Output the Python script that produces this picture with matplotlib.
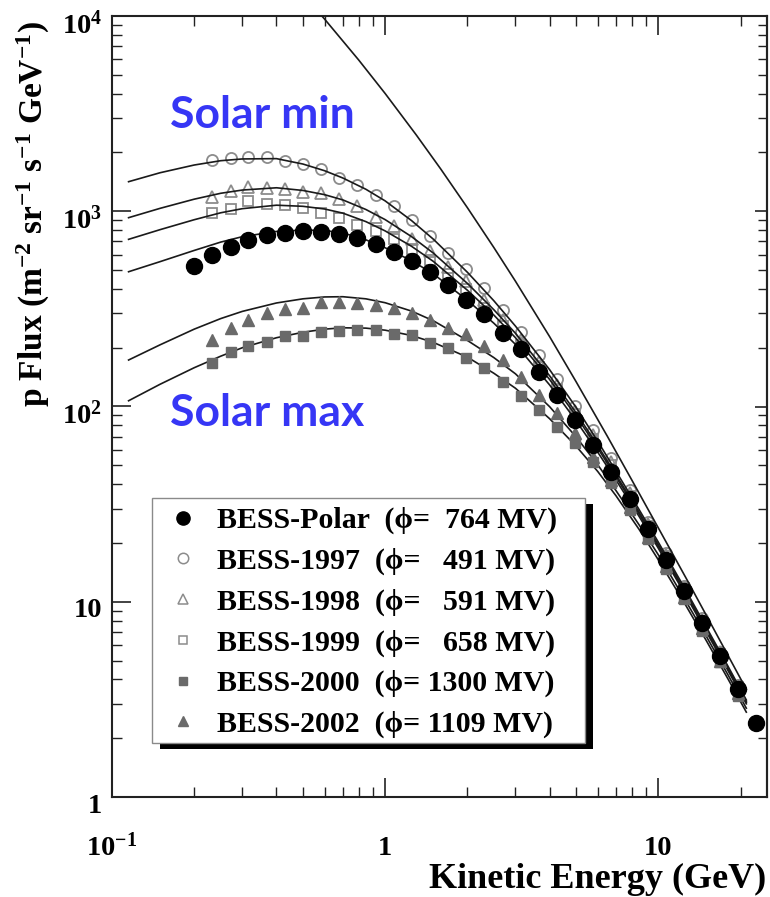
import matplotlib
matplotlib.use("Agg")
import matplotlib.pyplot as plt
import matplotlib.transforms as mtransforms
from matplotlib.lines import Line2D
from matplotlib.patches import Rectangle
from matplotlib.ticker import FixedLocator, FixedFormatter, LogLocator, NullFormatter

plt.rcParams['font.family'] = ['Liberation Serif', 'DejaVu Serif']
plt.rcParams['font.weight'] = 'bold'
plt.rcParams['mathtext.fontset'] = 'custom'
plt.rcParams['mathtext.rm'] = 'Liberation Serif:bold'
plt.rcParams['mathtext.bf'] = 'Liberation Serif:bold'
plt.rcParams['mathtext.it'] = 'Liberation Serif:bold:italic'

# --- measured points (GeV, m^-2 sr^-1 s^-1 GeV^-1) ---
energy_bins = [0.200, 0.233, 0.272, 0.316, 0.369, 0.430, 0.501, 0.583, 0.680, 0.792,
               0.923, 1.075, 1.253, 1.459, 1.701, 1.982, 2.309, 2.690, 3.135, 3.653,
               4.256, 4.959, 5.778, 6.733, 7.845, 9.141, 10.65, 12.41, 14.46, 16.85,
               19.63, 22.87]

flux_polar = [523, 600, 658, 710, 752, 778, 788, 785, 762, 730, 678, 620, 556, 488, 420,
              352, 299, 238, 197, 150, 114, 85.5, 63.5, 46.4, 33.5, 23.5, 16.45, 11.35,
              7.78, 5.30, 3.58, 2.39]

# the balloon flights 1997-2002 cover energy_bins[1:31]
flux_1997 = [1822, 1880, 1896, 1907, 1818, 1736, 1650, 1484, 1368, 1206, 1066, 898, 744,
             611, 507, 405, 312, 242, 184, 139, 100.6, 75.8, 54.3, 37.4, 25.6, 17.8, 12.1,
             8.25, 5.55, 3.76]
flux_1998 = [1188, 1274, 1335, 1320, 1295, 1250, 1236, 1151, 1064, 935, 840, 725, 625, 520,
             440, 350, 278, 220, 170, 129, 94.5, 71.5, 52.0, 36.2, 24.9, 17.4, 11.9, 8.10,
             5.50, 3.70]
flux_1999 = [976, 1027, 1129, 1085, 1076, 1035, 976, 920, 850, 790, 720, 640, 560, 478, 400,
             320, 258, 207, 160, 123, 91.0, 68.5, 50.0, 35.0, 24.4, 17.1, 11.7, 7.95, 5.42,
             3.66]
flux_2000 = [168, 191, 205, 213, 230, 230, 242, 245, 246, 246, 235, 232, 211, 199, 177, 157,
             134, 113, 96, 78.8, 64.7, 52.1, 40.4, 29.5, 21.0, 14.8, 10.3, 7.10, 4.90, 3.30]
flux_2002 = [219, 251, 277, 300, 315, 318, 342, 342, 338, 331, 320, 300, 277, 253, 234, 204,
             173, 142, 114.5, 92.3, 72.9, 55.3, 42.0, 30.5, 21.5, 15.2, 10.6, 7.30, 5.00, 3.40]

# --- model curves (force-field fits) ---
curve_energy = [0.115, 0.15, 0.2, 0.25, 0.3, 0.4, 0.5, 0.6, 0.7, 0.85, 1.0, 1.25, 1.5,
                2.0, 2.5, 3.0, 4.0, 5.0, 6.0, 7.0, 8.5, 10.0, 12.5, 15.0, 18.0, 21.0]
curve_1997 = [1417, 1575, 1725, 1815, 1853, 1860, 1745, 1613, 1480, 1296, 1130, 895, 720,
              487, 348, 258, 154.4, 99.0, 66.4, 46.6, 29.7, 20.2, 11.7, 7.40, 4.67, 3.14]
curve_1998 = [927, 1035, 1153, 1236, 1284, 1319, 1278, 1216, 1143, 1021, 906, 741, 611,
              427, 313, 237, 143.7, 92.9, 63.0, 44.7, 28.8, 19.6, 11.4, 7.24, 4.58, 3.08]
curve_1999 = [718, 805, 905, 982, 1031, 1074, 1060, 1027, 978, 885, 793, 661, 554,
              394, 294, 225, 137.6, 89.4, 61.2, 43.6, 28.2, 19.3, 11.25, 7.14, 4.52, 3.05]
curve_polar = [490, 552, 630, 695, 741, 788, 801, 797, 775, 714, 650, 558, 478,
               350, 267, 208, 129, 84.5, 58.4, 42.0, 27.4, 18.8, 11.0, 7.00, 4.44, 3.00]
curve_2002 = [173, 207, 249, 282, 307, 339, 356, 364, 365, 356, 340, 308, 275,
              218, 178, 147, 99.8, 69.9, 50.3, 37.1, 24.8, 17.4, 10.3, 6.64, 4.22, 2.85]
curve_2000 = [107, 130, 158, 181, 200, 225, 240, 249, 253, 252, 246, 231, 213,
              179, 148, 124, 86.6, 62.7, 46.5, 34.9, 23.5, 16.4, 9.78, 6.31, 4.02, 2.72]

lis_energy = [0.5, 0.6, 0.8, 1.0, 1.3, 1.6, 2.0, 2.5, 3.0, 4.0, 5.0, 6.5, 8.0, 10.0,
              13.0, 16.0, 21.0]
lis_flux = [12900, 9647, 5953, 4009, 2459, 1641, 1043, 652, 438, 228, 134, 70.6, 42.0,
            23.9, 12.3, 7.2, 3.56]

legend_labels = ["BESS-Polar  (\u03d5=  764 MV)",
                 "BESS-1997  (\u03d5=   491 MV)",
                 "BESS-1998  (\u03d5=   591 MV)",
                 "BESS-1999  (\u03d5=   658 MV)",
                 "BESS-2000  (\u03d5= 1300 MV)",
                 "BESS-2002  (\u03d5= 1109 MV)"]

x_ticks = [0.1, 1, 10]
x_tick_labels = [r'$10^{-1}$', '1', '10']
y_ticks = [1, 10, 100, 1000, 10000]
y_tick_labels = ['1', '10', r'$10^{2}$', r'$10^{3}$', r'$10^{4}$']

W, H = 770, 897
fig = plt.figure(figsize=(W / 100, H / 100), dpi=100)
ax = fig.add_axes([112 / W, 1 - 797 / H, 655 / W, 781 / H])
ax.set_xscale('log')
ax.set_yscale('log')
ax.set_xlim(0.1, 25)
ax.set_ylim(1, 1e4)

line_kw = dict(color='#1a1a1a', lw=1.2, zorder=3)
for curve in (curve_1997, curve_1998, curve_1999, curve_polar, curve_2002, curve_2000):
    ax.plot(curve_energy, curve, **line_kw)
ax.plot(lis_energy, lis_flux, **line_kw)

grey_open = '#8c8c8c'
grey_fill = '#6a6a6a'
e_sub = energy_bins[1:31]
ax.plot(e_sub, flux_1997, ls='none', marker='o', ms=8, mfc='none', mec=grey_open, mew=1.3, zorder=2)
ax.plot(e_sub, flux_1998, ls='none', marker='^', ms=8.5, mfc='none', mec=grey_open, mew=1.3, zorder=2)
ax.plot(e_sub, flux_1999, ls='none', marker='s', ms=7.5, mfc='none', mec=grey_open, mew=1.3, zorder=2)
ax.plot(e_sub, flux_2000, ls='none', marker='s', ms=7.5, mfc=grey_fill, mec=grey_fill, zorder=4)
ax.plot(e_sub, flux_2002, ls='none', marker='^', ms=8.5, mfc=grey_fill, mec=grey_fill, zorder=4)
ax.plot(energy_bins, flux_polar, ls='none', marker='o', ms=11.5, mfc='k', mec='k', zorder=5)

# axes and ticks
ax.xaxis.set_major_locator(FixedLocator(x_ticks))
ax.xaxis.set_major_formatter(FixedFormatter(x_tick_labels))
ax.xaxis.set_minor_locator(LogLocator(base=10, subs=range(2, 10)))
ax.xaxis.set_minor_formatter(NullFormatter())
ax.yaxis.set_major_locator(FixedLocator(y_ticks))
ax.yaxis.set_major_formatter(FixedFormatter(y_tick_labels))
ax.yaxis.set_minor_locator(LogLocator(base=10, subs=range(2, 10)))
ax.yaxis.set_minor_formatter(NullFormatter())
ax.tick_params(which='both', direction='in', top=True, right=False, colors='#222222',
               labelcolor='black')
ax.tick_params(which='major', length=14, width=1.2, labelsize=20.5)
ax.tick_params(which='minor', length=7, width=1.0)
ax.tick_params(axis='y', which='major', pad=7)
ax.tick_params(axis='x', which='major', pad=42)
for lab in ax.get_xticklabels():
    lab.set_verticalalignment('baseline')
shift = mtransforms.ScaledTranslation(0, -0.06, fig.dpi_scale_trans)
for lab in ax.get_yticklabels():
    lab.set_transform(lab.get_transform() + shift)
for sp in ax.spines.values():
    sp.set_linewidth(1.5)
    sp.set_color('#222222')

# right-hand ticks are shorter in the original
right = ax.secondary_yaxis('right', functions=(lambda y: y, lambda y: y))
right.yaxis.set_major_locator(FixedLocator(y_ticks))
right.yaxis.set_minor_locator(LogLocator(base=10, subs=range(2, 10)))
right.yaxis.set_major_formatter(NullFormatter())
right.yaxis.set_minor_formatter(NullFormatter())
right.tick_params(which='both', direction='in', colors='#222222')
right.tick_params(which='major', length=8.5, width=1.2)
right.tick_params(which='minor', length=6.5, width=1.0)
right.spines['right'].set_linewidth(1.5)
right.spines['right'].set_color('#222222')

# axis titles
fig.text(33 / W, 1 - 214 / H,
         r'p Flux (m$^{-2}$ sr$^{-1}$ s$^{-1}$ GeV$^{-1}$)',
         rotation=90, ha='center', va='center', fontsize=24, fontweight='bold')
fig.text(766 / W, 1 - 888 / H, 'Kinetic Energy (GeV)', ha='right', va='baseline',
         fontsize=26, fontweight='bold')

# annotations
ax.text((170 - 112) / 655, (797 - 128) / 781, 'Solar min', transform=ax.transAxes,
        ha='left', va='baseline', fontsize=32, fontweight='bold', family='Lato',
        color='#3636f5', zorder=6)
ax.text((170 - 112) / 655, (797 - 426) / 781, 'Solar max', transform=ax.transAxes,
        ha='left', va='baseline', fontsize=32, fontweight='bold', family='Lato',
        color='#3636f5', zorder=6)

# legend with a hard drop shadow
box = (152, 498, 585, 743)
ax.add_patch(Rectangle(((box[0] + 8) / W, 1 - (box[3] + 6) / H),
                       (box[2] - box[0]) / W, (box[3] - box[1]) / H,
                       transform=fig.transFigure, facecolor='black', edgecolor='none',
                       zorder=10, clip_on=False))
ax.add_patch(Rectangle((box[0] / W, 1 - box[3] / H),
                       (box[2] - box[0]) / W, (box[3] - box[1]) / H,
                       transform=fig.transFigure, facecolor='white', edgecolor='#8a8a8a',
                       lw=1.0, zorder=11, clip_on=False))
handles = [
    Line2D([], [], ls='none', marker='o', ms=9.5, mfc='k', mec='k'),
    Line2D([], [], ls='none', marker='o', ms=7.5, mfc='none', mec=grey_open, mew=1.1),
    Line2D([], [], ls='none', marker='^', ms=7.5, mfc='none', mec=grey_open, mew=1.1),
    Line2D([], [], ls='none', marker='s', ms=6, mfc='none', mec=grey_open, mew=1.1),
    Line2D([], [], ls='none', marker='s', ms=6, mfc=grey_fill, mec=grey_fill),
    Line2D([], [], ls='none', marker='^', ms=7.5, mfc=grey_fill, mec=grey_fill),
]
leg = ax.legend(handles, legend_labels, loc='upper left',
                bbox_to_anchor=(box[0] / W, 1 - box[1] / H), bbox_transform=fig.transFigure,
                frameon=False, fontsize=21.5, borderpad=0.3, handlelength=1.47,
                handletextpad=0.4, labelspacing=0.45, borderaxespad=0)
leg.set_zorder(12)

fig.savefig('out.png', dpi=100)
